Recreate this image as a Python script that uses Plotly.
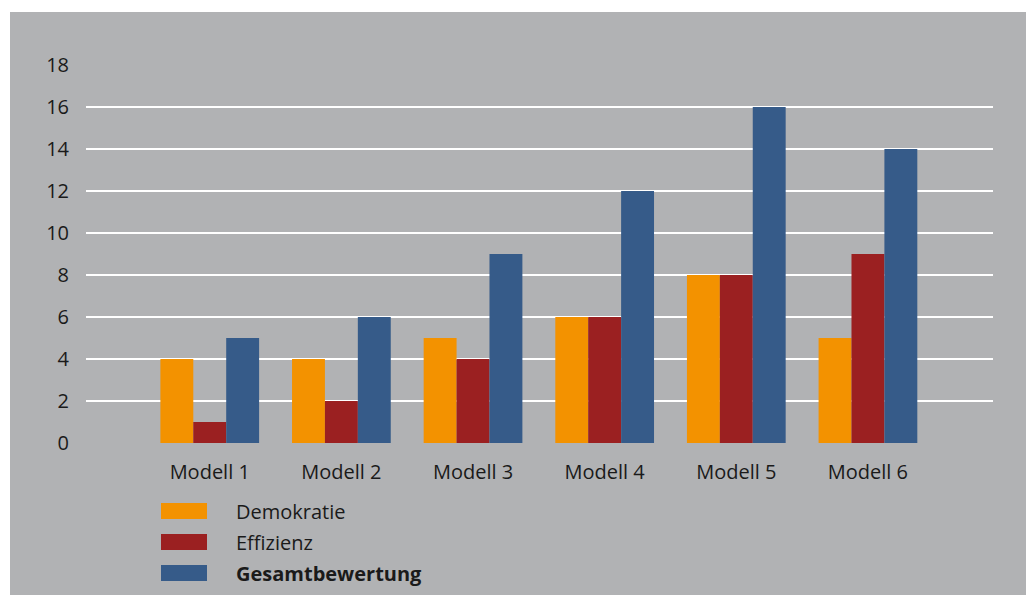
import plotly.graph_objects as go

categories = ["Modell 1", "Modell 2", "Modell 3", "Modell 4", "Modell 5", "Modell 6"]
demokratie = [4, 4, 5, 6, 8, 5]
effizienz = [1, 2, 4, 6, 8, 9]
gesamt = [5, 6, 9, 12, 16, 14]
y_ticks = [0, 2, 4, 6, 8, 10, 12, 14, 16, 18]
series_names = ["Demokratie", "Effizienz", "<b>Gesamtbewertung</b>"]
colors = ["#f39200", "#9b2021", "#365b89"]

GRAY = "#b1b2b4"
FONT = "Open Sans"
TXT = "#1a1a1a"
FS = 20
W, H = 1026, 595
L, R, T, B = 86, 33, 65, 152
pw, ph = W - L - R, H - T - B

fig = go.Figure()
for name, vals, col in zip(series_names, [demokratie, effizienz, gesamt], colors):
    fig.add_trace(go.Bar(x=categories, y=vals, name=name, marker=dict(color=col, line=dict(width=0)),
                         showlegend=False))

def px_to_paper_x(px):
    return (px - L) / pw

def px_to_paper_y(py):
    return (H - B - py) / ph

shapes = [
    dict(type="rect", xref="paper", yref="paper", x0=px_to_paper_x(0), x1=px_to_paper_x(W),
         y0=px_to_paper_y(12), y1=px_to_paper_y(0), fillcolor="white", line=dict(width=0), layer="above"),
    dict(type="rect", xref="paper", yref="paper", x0=px_to_paper_x(0), x1=px_to_paper_x(10),
         y0=px_to_paper_y(H), y1=px_to_paper_y(0), fillcolor="white", line=dict(width=0), layer="above"),
]
annotations = []
legend_rows = [511, 542, 573]
for name, col, yc in zip(series_names, colors, legend_rows):
    shapes.append(dict(type="rect", xref="paper", yref="paper",
                       x0=px_to_paper_x(161), x1=px_to_paper_x(207),
                       y0=px_to_paper_y(yc + 8), y1=px_to_paper_y(yc - 8),
                       fillcolor=col, line=dict(width=0)))
    annotations.append(dict(xref="paper", yref="paper", x=px_to_paper_x(234), y=px_to_paper_y(yc),
                            text=name, showarrow=False, xanchor="left", yanchor="middle",
                            font=dict(family=FONT, size=FS, color=TXT)))

fig.update_layout(
    width=W, height=H,
    margin=dict(l=L, r=R, t=T, b=B, autoexpand=False),
    paper_bgcolor=GRAY, plot_bgcolor=GRAY,
    barmode="group", bargap=0.25, bargroupgap=0,
    font=dict(family=FONT, size=FS, color=TXT),
    xaxis=dict(range=[-0.94, 5.95], showgrid=False, zeroline=False, showline=False,
               ticks="outside", ticklen=11, tickcolor="rgba(0,0,0,0)",
               tickfont=dict(family=FONT, size=FS, color=TXT)),
    yaxis=dict(range=[0, 18], tickvals=y_ticks, showgrid=True, gridcolor="white", gridwidth=2,
               zeroline=False, showline=False, ticks="outside", ticklen=12, tickcolor="rgba(0,0,0,0)",
               tickfont=dict(family=FONT, size=FS, color=TXT)),
    shapes=shapes, annotations=annotations,
)

fig.write_html("out.html")
